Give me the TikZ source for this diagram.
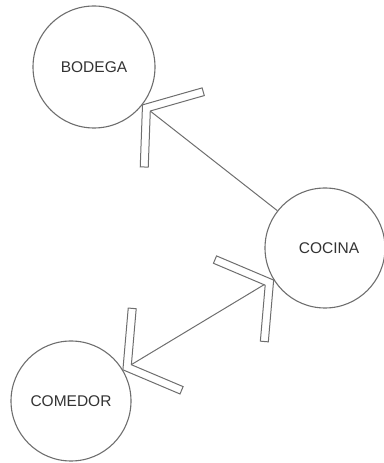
\documentclass[tikz,border=0pt]{standalone}
\usepackage{fontspec}
\setmainfont{Liberation Sans}
\usetikzlibrary{calc}
\definecolor{edgegray}{HTML}{6E6E6E}
\definecolor{txtgray}{HTML}{333333}
\tikzset{
  room/.style={circle, draw=edgegray, line width=1.1pt, inner sep=0pt,
    minimum size=120pt, text=txtgray, font=\fontsize{15.5}{18}\selectfont},
  conn/.style={draw=edgegray, line width=1pt},
  vhead/.pic={
    \filldraw[draw=edgegray, fill=white, line width=1pt, line join=miter]
      (0,0) -- (36.44,50.16) -- (42.91,45.46) -- (9.89,0)
      -- (42.91,-45.46) -- (36.44,-50.16) -- cycle;
  }
}
\begin{document}
\begin{tikzpicture}[x=1pt,y=1pt]
\useasboundingbox (0,0) rectangle (383,463);
\node[room, minimum size=122pt] (bodega) at (94,396) {BODEGA};
\node[room] (cocina) at (325,215) {\hspace*{8pt}COCINA};
\node[room] (comedor) at (71,62) {COMEDOR};
\draw[conn] (bodega) -- (cocina);
\draw[conn] (comedor) -- (cocina);
\path let \p1=($(cocina)-(bodega)$), \n1={atan2(\y1,\x1)} in
  (bodega.\n1) pic[rotate=\n1] {vhead};
\path let \p1=($(cocina)-(comedor)$), \n1={atan2(\y1,\x1)} in
  (comedor.\n1) pic[rotate=\n1] {vhead};
\path let \p1=($(comedor)-(cocina)$), \n1={atan2(\y1,\x1)} in
  (cocina.\n1) pic[rotate=\n1] {vhead};
\end{tikzpicture}
\end{document}
